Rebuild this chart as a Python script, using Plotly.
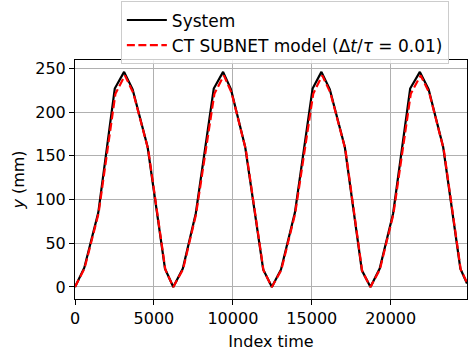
import plotly.graph_objects as go

# System knots (index time, y in mm)
x_sys = [0, 590, 1475, 2520, 3110, 3650, 4600, 5700, 6225,
         6830, 7650, 8790, 9380, 9880, 10780, 11920, 12470,
         13050, 13930, 15050, 15610, 16140, 17090, 18170, 18715,
         19300, 20150, 21230, 21845, 22400, 23320, 24410, 24830]
y_sys = [0, 22, 85, 227, 246, 226, 160, 21, 0,
         21, 84, 227, 246, 226, 160, 20, 0,
         20, 85, 227, 246, 226, 160, 19, 0,
         21, 84, 227, 246, 226, 160, 21, 4]

# CT SUBNET model knots
x_mod = [0, 600, 1490, 2560, 3160, 3690, 4640, 5720, 6225,
         6840, 7665, 8830, 9430, 9920, 10820, 11940, 12470,
         13060, 13945, 15090, 15660, 16180, 17130, 18190, 18715,
         19310, 20165, 21270, 21895, 22440, 23360, 24430, 24830]
y_mod = [0, 21, 84, 221, 242, 222, 157, 20, 0,
         20, 83, 221, 242, 222, 157, 19, 0,
         19, 84, 221, 242, 222, 157, 18, 0,
         20, 83, 221, 242, 222, 157, 20, 5]

x_ticks = [0, 5000, 10000, 15000, 20000]
x_ticktext = ["0", "5000", "10000", "15000", "20000"]
y_ticks = [0, 50, 100, 150, 200, 250]
y_ticktext = ["0", "50", "100", "150", "200", "250"]

FONT = "DejaVu Sans"

fig = go.Figure()
fig.add_trace(go.Scatter(x=x_sys, y=y_sys, mode="lines", name="System",
                         line=dict(color="black", width=2.2)))
fig.add_trace(go.Scatter(x=x_mod, y=y_mod, mode="lines",
                         name="CT SUBNET model (Δ<i>t</i>/<i>τ</i> = 0.01)",
                         line=dict(color="red", width=2.2, dash="8px,3.5px")))

axis_common = dict(showline=True, linecolor="black", linewidth=1, mirror=True,
                   showgrid=True, gridcolor="#b0b0b0", gridwidth=0.8,
                   ticks="outside", ticklen=5, tickwidth=1, tickcolor="black",
                   zeroline=False, tickfont=dict(family=FONT, size=16, color="black"))

fig.update_layout(
    width=468, height=351,
    margin=dict(l=75, r=1, t=60, b=52),
    paper_bgcolor="white", plot_bgcolor="white",
    font=dict(family=FONT, size=16, color="black"),
    xaxis=dict(range=[0, 24830], tickvals=x_ticks, ticktext=x_ticktext,
               title=dict(text="Index time", font=dict(family=FONT, size=16), standoff=8),
               **axis_common),
    yaxis=dict(range=[-13.8, 259.6], tickvals=y_ticks, ticktext=y_ticktext,
               title=dict(text="<i>y</i> (mm)", font=dict(family=FONT, size=16), standoff=6),
               **axis_common),
    legend=dict(x=0.117, y=1.245, xanchor="left", yanchor="top",
                bgcolor="rgba(255,255,255,0.8)", bordercolor="#cccccc", borderwidth=1,
                font=dict(family=FONT, size=17), tracegroupgap=0, itemwidth=40),
    showlegend=True,
)

fig.write_html("out.html")
